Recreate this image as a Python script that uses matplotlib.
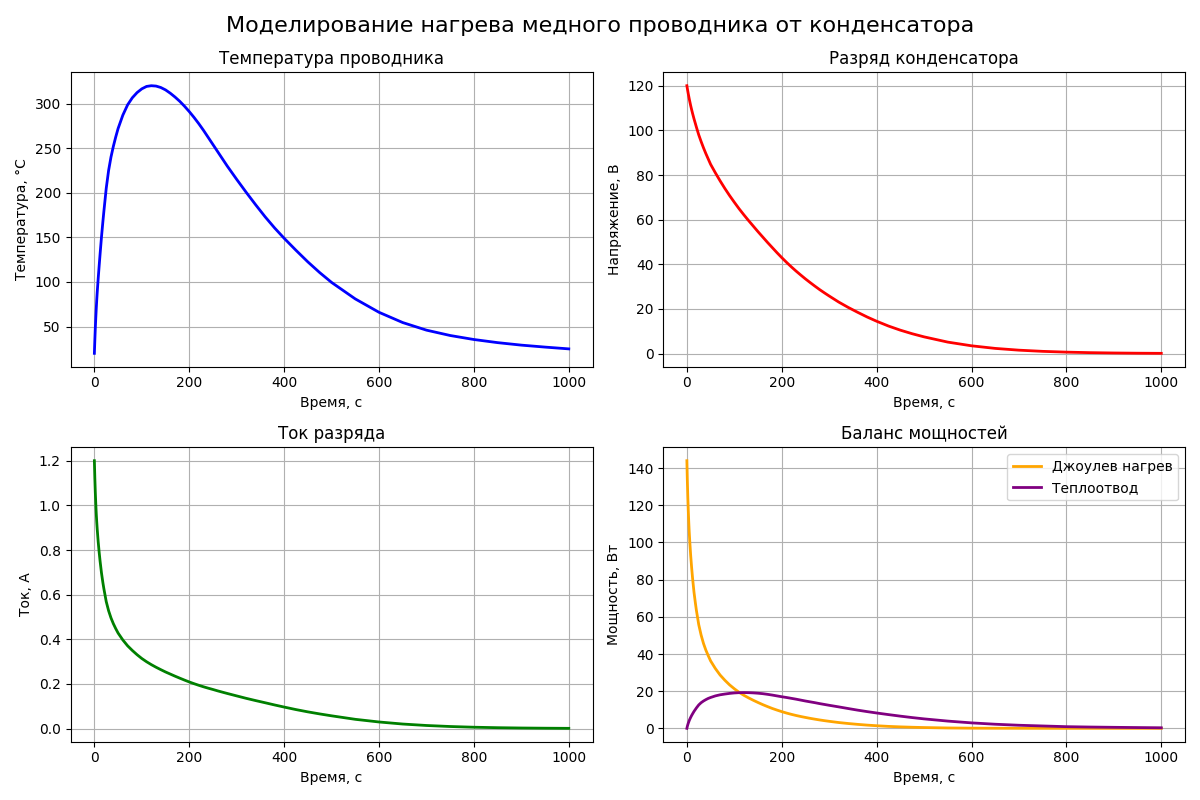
import matplotlib
matplotlib.use("Agg")
import matplotlib.pyplot as plt

time_s = [0, 1, 2, 3, 4, 5, 6, 8, 10, 12, 15, 18, 20, 25, 30, 35, 40, 45, 50, 60, 70,
          80, 90, 100, 110, 120, 130, 140, 150, 160, 170, 180, 190, 200, 210, 220, 230,
          240, 250, 260, 270, 280, 290, 300, 320, 340, 360, 380, 400, 425, 450, 475,
          500, 550, 600, 650, 700, 750, 800, 850, 900, 950, 1000]

temperature_c = [20, 35, 48.5, 60, 70.5, 80, 88.5, 103.5, 117.5, 131, 150.5, 168, 179,
                 205, 225, 240, 252, 262.5, 272, 287, 298.5, 306.5, 312.3, 316.5, 319.2,
                 320, 319.6, 318, 315.3, 311.6, 307.3, 302.5, 297, 291, 284.5, 277.5,
                 270, 262, 254, 246, 238, 230, 222.5, 215, 200.5, 186.5, 173, 160.5, 149,
                 135.5, 122.5, 110.5, 99.5, 81, 66, 54.5, 46, 40, 35.5, 32, 29.2, 27, 25]

voltage_v = [120, 118.7, 117.5, 116.3, 115.2, 114.1, 113.1, 111.1, 109.3, 107.6, 105.2,
             103, 101.5, 98, 95, 92.2, 89.6, 87.2, 84.8, 81, 77.4, 74, 70.8, 67.8, 64.9,
             62.2, 59.6, 57.1, 54.6, 52.2, 49.8, 47.5, 45.2, 43, 40.9, 38.9, 37.0, 35.2,
             33.45, 31.8, 30.2, 28.65, 27.2, 25.8, 23.1, 20.7, 18.5, 16.4, 14.5, 12.35,
             10.5, 8.9, 7.5, 5.15, 3.5, 2.33, 1.54, 1.01, 0.66, 0.43, 0.28, 0.18, 0.12]

current_a = [1.2, 1.121, 1.057, 1.006, 0.962, 0.925, 0.893, 0.838, 0.792, 0.751, 0.697,
             0.653, 0.627, 0.569, 0.528, 0.496, 0.470, 0.448, 0.428, 0.397, 0.371, 0.350,
             0.331, 0.314, 0.2995, 0.2866, 0.2749, 0.2641, 0.2537, 0.2443, 0.2349,
             0.2260, 0.2173, 0.2090, 0.2013, 0.1941, 0.1873, 0.1811, 0.1752, 0.1690,
             0.1632, 0.1575, 0.1520, 0.1465, 0.1356, 0.1255, 0.1158, 0.1059, 0.0965,
             0.0852, 0.0750, 0.0658, 0.0573, 0.0416, 0.0297, 0.0205, 0.0140, 0.0094,
             0.0062, 0.0041, 0.0027, 0.0018, 0.0012]

joule_w = [144, 133.1, 124.2, 117.0, 110.8, 105.5, 101.0, 93.1, 86.6, 80.8, 73.3, 67.3,
           63.6, 55.8, 50.2, 45.7, 42.1, 39.1, 36.3, 32.2, 28.7, 25.9, 23.4, 21.3, 19.4,
           17.8, 16.4, 15.1, 13.9, 12.75, 11.7, 10.7, 9.82, 8.99, 8.23, 7.55, 6.93,
           6.37, 5.86, 5.37, 4.93, 4.51, 4.13, 3.78, 3.13, 2.60, 2.14, 1.74, 1.40, 1.05,
           0.79, 0.59, 0.43, 0.21, 0.10, 0.048, 0.022, 0.0095, 0.0041, 0.0018, 0.0008,
           0.0003, 0.0001]

cooling_w = [0, 1.1, 2.0, 2.8, 3.5, 4.2, 4.8, 5.9, 6.9, 7.8, 9.1, 10.2, 10.95, 12.6,
             13.8, 14.7, 15.45, 16.1, 16.6, 17.45, 18.05, 18.45, 18.8, 19.05, 19.2, 19.25,
             19.2, 19.08, 18.9, 18.65, 18.3, 17.9, 17.45, 17.0, 16.6, 16.15, 15.7, 15.2,
             14.7, 14.25, 13.8, 13.3, 12.85, 12.4, 11.55, 10.66, 9.79, 9.0, 8.26, 7.39,
             6.56, 5.79, 5.09, 3.9, 2.94, 2.21, 1.66, 1.28, 0.9, 0.7, 0.55, 0.42, 0.3]

fig, axes = plt.subplots(2, 2, figsize=(12, 8), dpi=100)
fig.suptitle("Моделирование нагрева медного проводника от конденсатора", fontsize=16)

ax = axes[0, 0]
ax.plot(time_s, temperature_c, color="blue", linewidth=2)
ax.set_title("Температура проводника", fontsize=12)
ax.set_xlabel("Время, с")
ax.set_ylabel("Температура, °C")
ax.grid(True)

ax = axes[0, 1]
ax.plot(time_s, voltage_v, color="red", linewidth=2)
ax.set_title("Разряд конденсатора", fontsize=12)
ax.set_xlabel("Время, с")
ax.set_ylabel("Напряжение, В")
ax.grid(True)

ax = axes[1, 0]
ax.plot(time_s, current_a, color="green", linewidth=2)
ax.set_title("Ток разряда", fontsize=12)
ax.set_xlabel("Время, с")
ax.set_ylabel("Ток, А")
ax.grid(True)

ax = axes[1, 1]
ax.plot(time_s, joule_w, color="orange", linewidth=2, label="Джоулев нагрев")
ax.plot(time_s, cooling_w, color="purple", linewidth=2, label="Теплоотвод")
ax.set_title("Баланс мощностей", fontsize=12)
ax.set_xlabel("Время, с")
ax.set_ylabel("Мощность, Вт")
ax.legend(loc="upper right")
ax.grid(True)

fig.tight_layout()
fig.savefig("out.png")
